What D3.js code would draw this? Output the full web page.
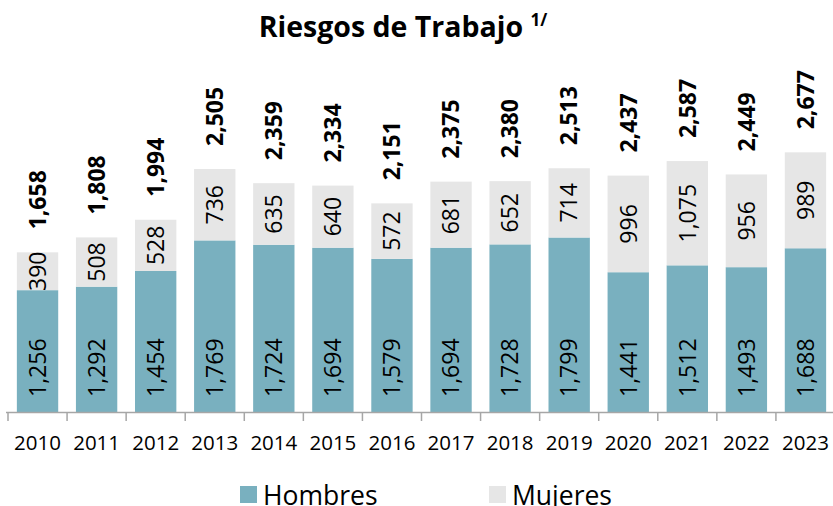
<!DOCTYPE html>
<html lang="es">
<head>
	<meta charset="utf-8">
	<title>Riesgos de Trabajo</title>
	<script src="https://d3js.org/d3.v7.min.js"></script>
	<style>
		body { margin: 0; background: #fff; }
		text { font-family: "Open Sans", sans-serif; }
	</style>
</head>
<body>
	<script>

	var years = ["2010", "2011", "2012", "2013", "2014", "2015", "2016",
		"2017", "2018", "2019", "2020", "2021", "2022", "2023"];
	var hombres = [1256, 1292, 1454, 1769, 1724, 1694, 1579, 1694, 1728, 1799, 1441, 1512, 1493, 1688];
	var mujeres = [390, 508, 528, 736, 635, 640, 572, 681, 652, 714, 996, 1075, 956, 989];
	var totales = [1658, 1808, 1994, 2505, 2359, 2334, 2151, 2375, 2380, 2513, 2437, 2587, 2449, 2677];
	var series = ["Hombres", "Mujeres"];

	var width = 833,
		height = 506,
		baseY = 412;

	var colors = { Hombres: "#79b0bf", Mujeres: "#e6e6e6" };
	var fmt = d3.format(",");

	var svg = d3.select("body")
		.append("svg")
		.attr("width", width)
		.attr("height", height);

	var x = d3.scaleBand()
		.domain(years)
		.range([8, 835])
		.paddingInner(0.3)
		.paddingOuter(0.15);

	var y = d3.scaleLinear()
		.domain([0, 3000])
		.range([baseY, baseY - 291]);

	var rows = years.map(function(yr, i) {
		return { year: yr, Hombres: hombres[i], Mujeres: mujeres[i], total: totales[i] };
	});

	var stacked = d3.stack().keys(series)(rows);

	// bars
	var layer = svg.append("g")
		.selectAll("g")
		.data(stacked)
		.enter().append("g")
		.attr("fill", function(d) { return colors[d.key]; });

	layer.selectAll("rect")
		.data(function(d) { return d; })
		.enter().append("rect")
		.attr("x", function(d) { return x(d.data.year); })
		.attr("width", x.bandwidth())
		.attr("y", function(d) { return y(d[1]); })
		.attr("height", function(d) { return y(d[0]) - y(d[1]); });

	// axis
	var axis = svg.append("g");
	axis.append("line")
		.attr("x1", 6).attr("x2", width)
		.attr("y1", baseY + 0.5).attr("y2", baseY + 0.5)
		.attr("stroke", "#a6a6a6").attr("stroke-width", 1.5);
	axis.selectAll(".tick")
		.data(d3.range(years.length + 1))
		.enter().append("line")
		.attr("x1", function(i) { return 8 + i * x.step(); })
		.attr("x2", function(i) { return 8 + i * x.step(); })
		.attr("y1", baseY).attr("y2", baseY + 9)
		.attr("stroke", "#a6a6a6").attr("stroke-width", 1.5);
	axis.selectAll(".yr")
		.data(years)
		.enter().append("text")
		.attr("x", function(d) { return x(d) + x.bandwidth() / 2; })
		.attr("y", 450)
		.attr("text-anchor", "middle")
		.attr("font-size", 20.5)
		.attr("fill", "#000")
		.text(function(d) { return d; });

	// hombres labels (near the base)
	svg.append("g").selectAll("text")
		.data(stacked[0])
		.enter().append("text")
		.attr("transform", function(d) {
			return "translate(" + (x(d.data.year) + x.bandwidth() / 2) + "," + (baseY - 15) + ") rotate(-90)";
		})
		.attr("dy", "0.36em")
		.attr("font-size", 23)
		.text(function(d) { return fmt(d.data.Hombres); });

	// mujeres labels (centered)
	svg.append("g").selectAll("text")
		.data(stacked[1])
		.enter().append("text")
		.attr("transform", function(d) {
			return "translate(" + (x(d.data.year) + x.bandwidth() / 2) + "," + ((y(d[0]) + y(d[1])) / 2) + ") rotate(-90)";
		})
		.attr("text-anchor", "middle")
		.attr("dy", "0.36em")
		.attr("font-size", 23)
		.text(function(d) { return fmt(d.data.Mujeres); });

	// totals
	svg.append("g").selectAll("text")
		.data(stacked[1])
		.enter().append("text")
		.attr("transform", function(d) {
			return "translate(" + (x(d.data.year) + x.bandwidth() / 2) + "," + (y(d[1]) - 23) + ") rotate(-90)";
		})
		.attr("dy", "0.36em")
		.attr("font-size", 23)
		.attr("font-weight", "bold")
		.text(function(d) { return fmt(d.data.total); });

	// title
	var title = svg.append("text")
		.attr("x", 403)
		.attr("y", 37)
		.attr("text-anchor", "middle")
		.attr("font-size", 28.5)
		.attr("font-weight", "bold");
	title.append("tspan").text("Riesgos de Trabajo ");
	title.append("tspan")
		.attr("font-size", 17)
		.attr("dy", -11)
		.text("1/");

	// legend
	var legend = svg.append("g");
	var legX = [240, 489];
	series.forEach(function(s, i) {
		legend.append("rect")
			.attr("x", legX[i]).attr("y", 486)
			.attr("width", 17).attr("height", 17)
			.attr("fill", colors[s]);
		legend.append("text")
			.attr("x", legX[i] + 23)
			.attr("y", 505)
			.attr("font-size", 26.5)
			.text(s);
	});

	</script>
</body>
</html>
